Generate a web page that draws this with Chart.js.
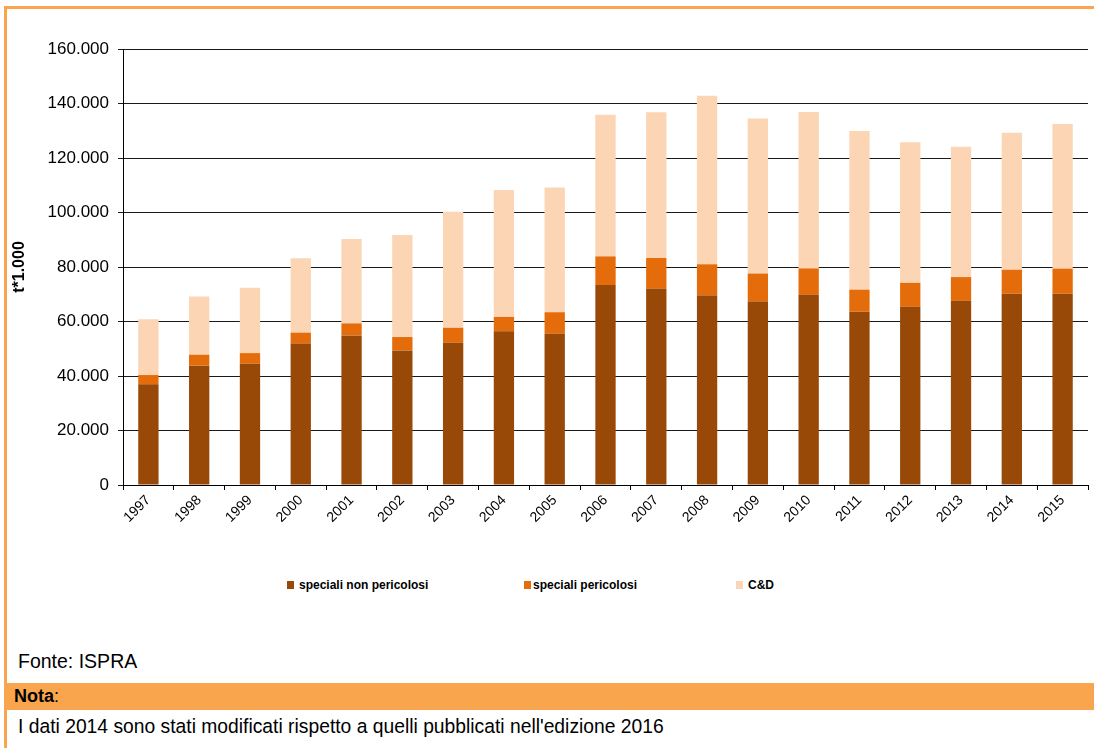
<!DOCTYPE html>
<html lang="it">
<head>
<meta charset="utf-8">
<title>Rifiuti speciali 1997-2015</title>
<script src="https://cdn.jsdelivr.net/npm/chart.js@4.4.1/dist/chart.umd.min.js"></script>
<style>
  body {
    margin: 0;
    width: 1094px;
    height: 748px;
    background: #fff;
    overflow: hidden;
    position: relative;
    font-family: "Liberation Sans", Arial, sans-serif;
    color: #000;
  }
  #frame {
    position: absolute;
    left: 4px;
    top: 6px;
    width: 1090px;
    height: 742px;
    border-top: 3px solid #F9A54D;
    border-left: 3px solid #F9A54D;
    box-sizing: border-box;
  }
  #chartBox {
    position: absolute;
    left: 8px;
    top: 10px;
    width: 1082px;
    height: 540px;
  }
  .legendItem {
    position: absolute;
    top: 577px;
    height: 16px;
    line-height: 16px;
    font-size: 12px;
    font-weight: bold;
    white-space: nowrap;
  }
  .legendItem .swatch {
    position: absolute;
    left: 0;
    top: 4px;
    width: 7px;
    height: 8px;
  }
  .legendItem .label {
    position: absolute;
    top: 0;
  }
  #fonte {
    position: absolute;
    left: 18px;
    top: 651px;
    font-size: 19.5px;
    line-height: 20px;
  }
  #nota {
    position: absolute;
    left: 7px;
    top: 683px;
    width: 1087px;
    height: 27px;
    background: #F9A54D;
    font-size: 18px;
    line-height: 26px;
    padding-left: 7px;
    box-sizing: border-box;
  }
  #nota b { font-weight: bold; }
  #note {
    position: absolute;
    left: 18px;
    top: 717px;
    font-size: 19.3px;
    line-height: 20px;
    white-space: nowrap;
  }
</style>
</head>
<body>
<div id="frame"></div>
<div id="chartBox"><canvas id="wasteChart" width="1082" height="540"></canvas></div>
<div id="legend"></div>
<div id="fonte">Fonte: ISPRA</div>
<div id="nota"><b>Nota</b>:</div>
<div id="note">I dati 2014 sono stati modificati rispetto a quelli pubblicati nell'edizione 2016</div>

<script>
// t*1.000
const years = ['1997', '1998', '1999', '2000', '2001', '2002', '2003', '2004', '2005', '2006',
               '2007', '2008', '2009', '2010', '2011', '2012', '2013', '2014', '2015'];
const specialiNonPericolosi = [36950, 43800, 44500, 51900, 54900, 49400, 52200, 56400, 55500, 73400,
                               72000, 69500, 67300, 69800, 63600, 65400, 67600, 70200, 70200];
const specialiPericolosi = [3400, 4000, 3900, 4000, 4400, 4900, 5500, 5300, 7900, 10500,
                            11300, 11500, 10300, 9700, 8100, 8800, 8700, 8800, 9200];
const costruzioneDemolizione = [20500, 21400, 24000, 27300, 31000, 37400, 42600, 46600, 45800, 52000,
                                53500, 61800, 56900, 57400, 58200, 51600, 47800, 50300, 53100];
const yTickLabels = ['0', '20.000', '40.000', '60.000', '80.000', '100.000', '120.000', '140.000', '160.000'];

Chart.defaults.font.family = '"Liberation Sans", Arial, sans-serif';
Chart.defaults.color = '#000';

var wasteConfig =
{
    type: 'bar',
    data: {
        labels: years,
        datasets: [{
            label: 'speciali non pericolosi',
            data: specialiNonPericolosi,
            backgroundColor: '#984807',
            borderWidth: 0
        }, {
            label: 'speciali pericolosi',
            data: specialiPericolosi,
            backgroundColor: '#E46C0A',
            borderWidth: 0
        }, {
            label: 'C&D',
            data: costruzioneDemolizione,
            backgroundColor: '#FCD5B5',
            borderWidth: 0
        }]
    },
    options: {
        responsive: false,
        animation: false,
        devicePixelRatio: 1,
        layout: {
            padding: { top: 39, right: 2, left: 0, bottom: 0 }
        },
        datasets: {
            bar: {
                categoryPercentage: 1,
                barPercentage: 0.4
            }
        },
        plugins: {
            legend: {
                display: false
            },
            tooltip: {
                enabled: false
            }
        },
        scales: {
            x: {
                stacked: true,
                grid: {
                    offset: true,
                    drawOnChartArea: false,
                    color: '#000',
                    tickLength: 5
                },
                border: {
                    color: '#000'
                },
                ticks: {
                    autoSkip: false,
                    maxRotation: 45,
                    minRotation: 45,
                    padding: 2,
                    font: { size: 14 }
                },
                afterFit: function(scale) {
                    scale.height = 65;
                }
            },
            y: {
                stacked: true,
                min: 0,
                max: 160000,
                grid: {
                    color: '#1a1a1a',
                    tickLength: 5
                },
                border: {
                    color: '#000'
                },
                ticks: {
                    stepSize: 20000,
                    padding: 9,
                    font: { size: 17 },
                    callback: function(value, index, ticks) {
                        return yTickLabels[index];
                    }
                },
                title: {
                    display: true,
                    text: 't*1.000',
                    font: { size: 16, weight: 'bold' },
                    padding: { top: 2, bottom: 0 }
                },
                afterFit: function(scale) {
                    scale.width = 115;
                }
            }
        }
    }
}

const wasteCtx = document.getElementById('wasteChart');
const wasteChart = new Chart(wasteCtx, wasteConfig);

// legend like the Excel original, spread unevenly under the plot
const legendLeft = [287, 524, 736];
const legendTextGap = [12, 9, 12];
const legendBox = document.getElementById('legend');
wasteChart.data.datasets.forEach(function(ds, i) {
    const item = document.createElement('div');
    item.className = 'legendItem';
    item.style.left = legendLeft[i] + 'px';
    const sw = document.createElement('span');
    sw.className = 'swatch';
    sw.style.background = ds.backgroundColor;
    const txt = document.createElement('span');
    txt.className = 'label';
    txt.style.left = legendTextGap[i] + 'px';
    txt.textContent = ds.label;
    item.appendChild(sw);
    item.appendChild(txt);
    legendBox.appendChild(item);
});
</script>
</body>
</html>
